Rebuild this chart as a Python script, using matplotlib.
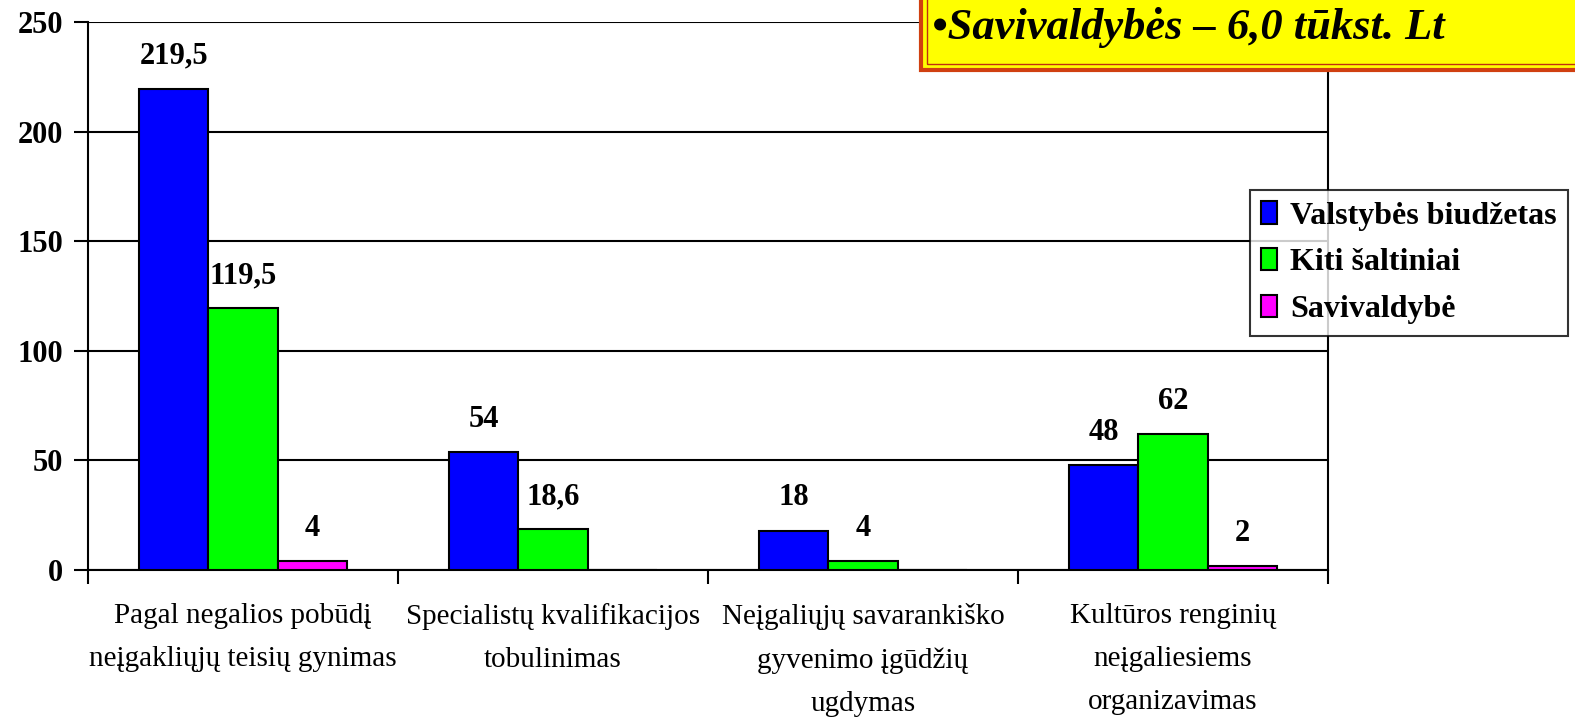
import matplotlib.pyplot as plt
import numpy as np
from matplotlib.patches import Rectangle

# Data
categories = ['Pagal negalios pobūdį\nneįgakliųjų teisių gynimas',
              'Specialistų kvalifikacijos\ntobulinimas',
              'Neįgaliųjų savarankiško\ngyvenimo įgūdžių\nugdymas',
              'Kultūros renginių\nneįgaliesiems\norganizavimas']
series_names = ['Valstybės biudžetas', 'Kiti šaltiniai', 'Savivaldybė']
valstybes = [219.5, 54, 18, 48]
kiti = [119.5, 18.6, 4, 62]
savivaldybe = [4, 0, 0, 2]
colors = ['#0000FF', '#00FF00', '#FF00FF']
yticks = [0, 50, 100, 150, 200, 250]

plt.rcParams['font.family'] = ['Liberation Serif', 'DejaVu Serif']

fig = plt.figure(figsize=(15.75, 7.2), dpi=100)
ax = fig.add_axes([88/1575, 1-570/720, (1328-88)/1575, (570-22)/720])

x = np.arange(len(categories))
w = 0.223
for i, (vals, name, c) in enumerate(zip([valstybes, kiti, savivaldybe], series_names, colors)):
    bars = ax.bar(x + (i-1)*w, vals, w, color=c, edgecolor='black', linewidth=1.5, label=name, zorder=3)
    labels = [('%g' % v).replace('.', ',') if v else '' for v in vals]
    ax.bar_label(bars, labels=labels, padding=13, fontsize=22, fontweight='bold')

ax.set_xlim(-0.5, len(categories) - 0.5)
ax.set_ylim(0, 250)
ax.set_yticks(yticks)
ax.set_yticklabels([str(t) for t in yticks], fontsize=22, fontweight='bold')
ax.tick_params(axis='y', length=10, width=1.5, pad=8)
ax.set_xticks(np.arange(len(categories) + 1) - 0.5)
ax.set_xticklabels([])
ax.tick_params(axis='x', which='major', length=10, width=1.5)
ax.set_xticks(x, minor=True)
ax.set_xticklabels(categories, minor=True, fontsize=21, linespacing=1.85)
ax.tick_params(axis='x', which='minor', length=0, pad=24)

ax.yaxis.grid(True, color='black', linewidth=1.5, zorder=0)
for s in ['left', 'bottom', 'right']:
    ax.spines[s].set_linewidth(1.5)
ax.spines['top'].set_visible(False)

# Legend
leg = fig.legend(loc='upper left', bbox_to_anchor=(1250/1575, 1-190/720), frameon=True,
                 fancybox=False, edgecolor='black', prop={'size': 23, 'weight': 'bold'},
                 handlelength=0.5, handleheight=0.7, handletextpad=0.4, labelspacing=0.55,
                 borderpad=0.35, borderaxespad=0)
leg.get_frame().set_linewidth(1.5)

# Yellow note box
fig.patches.append(Rectangle((921/1575, 1-70/720), 0.5, 0.2, transform=fig.transFigure,
                             facecolor='#FFFF00', edgecolor='#D04010', linewidth=3, zorder=5))
fig.patches.append(Rectangle((927/1575, 1-64/720), 0.5, 0.2, transform=fig.transFigure,
                             facecolor='none', edgecolor='#C03010', linewidth=1, zorder=6))
fig.text(932/1575, 1-28/720, '•Savivaldybės – 6,0 tūkst. Lt', fontsize=32, fontweight='bold',
         fontstyle='italic', va='center', ha='left', zorder=7)

plt.savefig('out.png', dpi=100)
